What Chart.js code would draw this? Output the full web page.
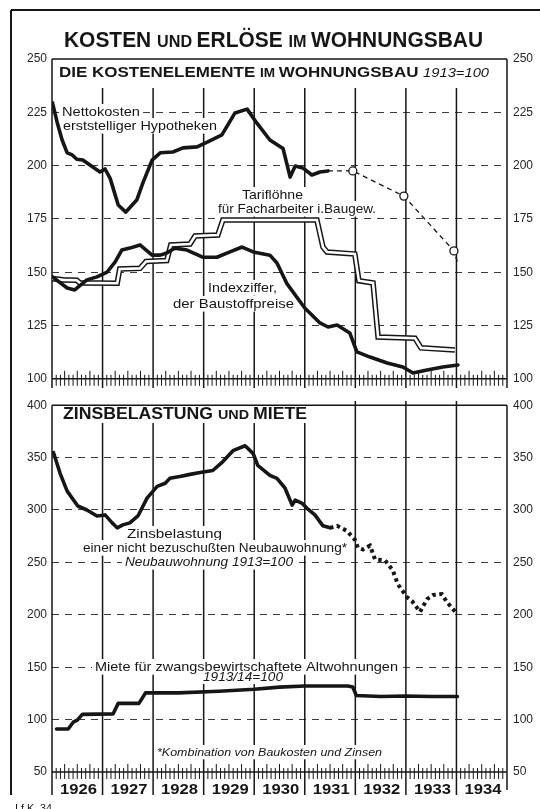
<!DOCTYPE html>
<html>
<head>
<meta charset="utf-8">
<script src="https://cdn.jsdelivr.net/npm/chart.js@4.4.1/dist/chart.umd.min.js"></script>
<style>
  html, body { margin: 0; padding: 0; background: #fff; }
  #page { position: relative; width: 540px; height: 809px; overflow: hidden; background: #fff; }
  canvas { position: absolute; left: 0; }
  #topChart { top: 0; }
  #botChart { top: 392px; }
</style>
</head>
<body>
<div id="page">
  <canvas id="topChart" width="540" height="392"></canvas>
  <canvas id="botChart" width="540" height="417"></canvas>
</div>
<script>
// years on the x axis (each year is one band)
const years = [1926, 1927, 1928, 1929, 1930, 1931, 1932, 1933, 1934];

// --- top panel: cost elements, 1913 = 100 ---
// Nettokosten erststelliger Hypotheken
const hypoX = [1926.01, 1926.10, 1926.20, 1926.30, 1926.40, 1926.49, 1926.61, 1926.75, 1926.95, 1927.05, 1927.15, 1927.31, 1927.46, 1927.68, 1927.80, 1927.98, 1928.14, 1928.39, 1928.59, 1928.87, 1929.07, 1929.36, 1929.62, 1929.86, 1930.05, 1930.31, 1930.57, 1930.71, 1930.81, 1930.96, 1931.14, 1931.30, 1931.46];
const hypoY = [229.4, 220.5, 212, 206, 205, 203, 202.6, 200.3, 197, 198.4, 194, 181.5, 178.2, 184, 192, 202.6, 206, 206.4, 208.3, 208.8, 211, 214.4, 224.7, 226.5, 220, 212, 208, 194.6, 199.8, 198.9, 195.6, 197, 197.5];
// dashed continuation with circles
const hypoEstX = [1931.46, 1931.95, 1932.96, 1933.95, 1934.03];
const hypoEstY = [197.5, 197.5, 185.7, 160, 154];

// Tariflöhne für Facharbeiter i. Baugew.
const tarifX = [1926.01, 1926.22, 1926.49, 1926.55, 1927.29, 1927.34, 1927.74, 1927.86, 1928.27, 1928.35, 1928.73, 1928.83, 1929.28, 1929.38, 1931.24, 1931.36, 1931.44, 1931.99, 1932.07, 1932.35, 1932.45, 1933.18, 1933.30, 1933.97];
const tarifY = [147, 146.4, 146.2, 145, 144.8, 151.5, 151.8, 155, 155.5, 162.8, 163.2, 167, 167.4, 174.5, 174.5, 161.8, 159.5, 158.5, 146, 145, 119.6, 119, 114.5, 113.5];

// Indexziffer der Baustoffpreise
const baustoffX = [1926.01, 1926.30, 1926.45, 1926.69, 1926.89, 1927.09, 1927.25, 1927.38, 1927.54, 1927.74, 1927.98, 1928.14, 1928.27, 1928.43, 1928.67, 1928.99, 1929.26, 1929.52, 1929.76, 1929.98, 1930.31, 1930.45, 1930.65, 1931.00, 1931.30, 1931.46, 1931.64, 1931.89, 1932.03, 1932.29, 1932.63, 1932.94, 1933.14, 1933.42, 1933.73, 1934.03];
const baustoffY = [147.8, 142.6, 141.7, 146.4, 147.8, 150, 154.8, 160.4, 161.3, 162.8, 158, 158, 159, 161.3, 160.4, 157, 157, 159.5, 161.8, 159.5, 158, 154.3, 144.5, 133.2, 126.2, 124.3, 125.2, 121.5, 112.6, 110.2, 107.4, 105.5, 102.7, 104.1, 105.5, 106.5];

// --- bottom panel: Zinsbelastung und Miete ---
const zinsX = [1926.03, 1926.16, 1926.30, 1926.51, 1926.69, 1926.89, 1927.05, 1927.19, 1927.29, 1927.40, 1927.54, 1927.70, 1927.88, 1928.08, 1928.24, 1928.33, 1928.53, 1928.73, 1928.93, 1929.18, 1929.38, 1929.58, 1929.82, 1929.98, 1930.07, 1930.31, 1930.45, 1930.61, 1930.75, 1930.81, 1930.94, 1931.04, 1931.20, 1931.36, 1931.50];
const zinsY = [354.7, 335, 318, 303.8, 300, 294.3, 295.3, 287.7, 283, 285.8, 287.7, 294.3, 311.3, 322.6, 325.5, 330.2, 332, 334, 335.8, 337.7, 346.2, 356.6, 361.3, 353.8, 342.5, 333, 330.2, 320.8, 304.7, 309.4, 306.6, 301.9, 295.3, 284.9, 283];
// dotted part (Kombination von Baukosten und Zinsen)
const zinsEstX = [1931.50, 1931.64, 1931.83, 1931.99, 1932.05, 1932.15, 1932.29, 1932.39, 1932.59, 1932.74, 1932.84, 1933.02, 1933.12, 1933.28, 1933.42, 1933.54, 1933.71, 1933.81, 1934.01];
const zinsEstY = [283, 284.9, 280.2, 271.7, 264.2, 262.3, 266, 252.8, 251.9, 242.5, 229.2, 217, 213.2, 202.8, 215, 218.9, 219.8, 212.3, 201];

// Miete für zwangsbewirtschaftete Altwohnungen
const mieteX = [1926.09, 1926.32, 1926.42, 1926.50, 1926.60, 1927.21, 1927.31, 1927.72, 1927.85, 1928.50, 1929.30, 1930.00, 1930.50, 1931.00, 1931.85, 1931.95, 1932.02, 1932.50, 1933.00, 1933.50, 1934.02];
const mieteY = [91, 91, 97.5, 99.5, 105, 105.5, 115.5, 115.5, 125.5, 125.5, 127, 129, 131, 132, 132, 131, 123, 122, 122.5, 122, 122];

const INK = "#161616";
const FAM = '"Liberation Sans", Arial, sans-serif';
const reg = s => s + "px " + FAM;
const bold = s => "bold " + s + "px " + FAM;
const ital = s => "italic " + s + "px " + FAM;

const pts = (xs, ys) => xs.map((x, i) => ({ x: x, y: ys[i] }));

function line(ctx, x1, y1, x2, y2, w) {
  ctx.lineWidth = w;
  ctx.beginPath();
  ctx.moveTo(x1, y1);
  ctx.lineTo(x2, y2);
  ctx.stroke();
}

//text squeezed/stretched to the width it has in the original
function fitText(ctx, segs, x0, x1, base, box) {
  ctx.save();
  let total = 0;
  const ws = segs.map(s => { ctx.font = s[1]; const w = ctx.measureText(s[0]).width; total += w; return w; });
  if (box) {
    ctx.fillStyle = "#fff";
    ctx.fillRect(x0 - 3, base - box, x1 - x0 + 6, box * 1.3);
  }
  ctx.fillStyle = INK;
  ctx.textBaseline = "alphabetic";
  ctx.textAlign = "left";
  ctx.translate(x0, base);
  ctx.scale((x1 - x0) / total, 1);
  let x = 0;
  segs.forEach((s, i) => { ctx.font = s[1]; ctx.fillText(s[0], x, 0); x += ws[i]; });
  ctx.restore();
}

//monthly hair ticks on the base line
function monthTicks(ctx, xs, y, left, right) {
  line(ctx, left, y, right, y, 1.5);
  for (let m = 1; m < 108; m++) {
    if (m % 12 === 0) continue;
    const x = xs.getPixelForValue(1926 + m / 12);
    line(ctx, x, y - (m % 3 === 0 ? 8 : 4), x, y + 7, 1);
  }
}

const topDeco = {
  id: "topDeco",
  beforeDatasetsDraw(chart) {
    const ctx = chart.ctx, xs = chart.scales.x, a = chart.chartArea;
    ctx.save();
    ctx.strokeStyle = INK;
    line(ctx, 11, 10, 540, 10, 2);
    line(ctx, 11, 10, 11, 392, 2);
    years.slice(1).forEach(yr => {
      const x = xs.getPixelForValue(yr);
      line(ctx, x, 88, x, 388, 1.5);
    });
    line(ctx, a.left, a.top, a.right, a.top, 1.5);
    line(ctx, a.left, a.top, a.left, 388, 1.5);
    line(ctx, a.right, a.top, a.right, 388, 1.5);
    monthTicks(ctx, xs, a.bottom, a.left, a.right);

    fitText(ctx, [["KOSTEN ", bold(22)], ["UND ", bold(17)], ["ERLÖSE ", bold(22)], ["IM ", bold(17)], ["WOHNUNGSBAU", bold(22)]], 64, 483, 47);
    fitText(ctx, [["DIE KOSTENELEMENTE ", bold(15)], ["IM ", bold(12)], ["WOHNUNGSBAU ", bold(15)], ["1913=100", ital(13)]], 59, 489, 77);

    fitText(ctx, [["Nettokosten", reg(13)]], 62, 140, 116, 12);
    fitText(ctx, [["erststelliger Hypotheken", reg(13)]], 63, 217, 130, 12);
    fitText(ctx, [["Tariflöhne", reg(13)]], 242, 303, 199, 12);
    fitText(ctx, [["für Facharbeiter i.Baugew.", reg(13)]], 218, 376, 213, 12);
    fitText(ctx, [["Indexziffer,", reg(13)]], 208, 277, 292, 12);
    fitText(ctx, [["der Baustoffpreise", reg(13)]], 173, 294, 308, 12);
    ctx.restore();
  }
};

const OFF = 392; // page y of the bottom canvas
const botDeco = {
  id: "botDeco",
  beforeDatasetsDraw(chart) {
    const ctx = chart.ctx, xs = chart.scales.x, a = chart.chartArea;
    ctx.save();
    ctx.strokeStyle = INK;
    line(ctx, 11, 0, 11, 795 - OFF, 2);
    years.slice(1).forEach(yr => {
      const x = xs.getPixelForValue(yr);
      line(ctx, x, (x < 320 ? 423 : 401) - OFF, x, 795 - OFF, 1.5);
    });
    line(ctx, a.left, a.top, a.right, a.top, 1.5);
    line(ctx, a.left, a.top, a.left, 795 - OFF, 1.5);
    line(ctx, a.right, a.top, a.right, 790 - OFF, 1.5);
    monthTicks(ctx, xs, a.bottom, a.left, a.right);

    fitText(ctx, [["ZINSBELASTUNG ", bold(16)], ["UND ", bold(13)], ["MIETE", bold(16)]], 63, 307, 419 - OFF);

    fitText(ctx, [["Zinsbelastung", reg(13)]], 127, 222, 538 - OFF, 12);
    fitText(ctx, [["einer nicht bezuschußten Neubauwohnung*", reg(13)]], 83, 347, 552 - OFF, 12);
    fitText(ctx, [["Neubauwohnung 1913=100", ital(13)]], 125, 293, 566 - OFF, 12);
    fitText(ctx, [["Miete für zwangsbewirtschaftete Altwohnungen", reg(13)]], 95, 398, 671 - OFF, 12);
    fitText(ctx, [["1913/14=100", ital(12)]], 203, 283, 681 - OFF, 10);
    fitText(ctx, [["*Kombination von Baukosten und Zinsen", ital(11)]], 157, 382, 756 - OFF, 11);

    years.forEach(yr => {
      const x = xs.getPixelForValue(yr);
      fitText(ctx, [[String(yr), bold(15)]], x + 8, x + 45, 794 - OFF);
    });
    fitText(ctx, [["I.f.K. 34", reg(10)]], 15, 52, 812 - OFF);
    ctx.restore();
  }
};

function panelOptions(yMin, yMax, step, padTop, padBottom) {
  const tickFont = { family: FAM, size: 12 };
  return {
    responsive: false,
    animation: false,
    devicePixelRatio: 1,
    layout: { padding: { left: 12, right: 0, top: padTop, bottom: padBottom } },
    plugins: { legend: { display: false }, tooltip: { enabled: false } },
    elements: { point: { radius: 0 }, line: { tension: 0 } },
    scales: {
      x: { type: "linear", min: 1926, max: 1935, display: false },
      y: {
        position: "left", min: yMin, max: yMax,
        ticks: { stepSize: step, padding: 5, color: "#262626", font: tickFont },
        grid: {
          drawTicks: false, lineWidth: 1.1,
          color: c => (c.tick.value === yMin || c.tick.value === yMax) ? "rgba(0,0,0,0)" : "#3c3c3c"
        },
        border: { display: false, dash: [7, 6] },
        afterFit: s => { s.width = 40; }
      },
      yR: {
        position: "right", min: yMin, max: yMax,
        ticks: { stepSize: step, padding: 6, color: "#262626", font: tickFont },
        grid: { display: false, drawTicks: false },
        border: { display: false },
        afterFit: s => { s.width = 33; }
      }
    }
  };
}

const thick = { borderColor: INK, borderWidth: 3.6, pointRadius: 0, borderJoinStyle: "round", borderCapStyle: "round" };

new Chart(document.getElementById("topChart"), {
  type: "line",
  data: {
    datasets: [
      { label: "Nettokosten (Schätzung)", data: pts(hypoEstX, hypoEstY), borderColor: INK, borderWidth: 1.3, borderDash: [5, 4],
        pointRadius: [0, 4, 4, 4, 0], pointBackgroundColor: "#fff", pointBorderColor: INK, pointBorderWidth: 1.3, order: 0 },
      Object.assign({ label: "Nettokosten erststelliger Hypotheken", data: pts(hypoX, hypoY), order: 1 }, thick),
      Object.assign({ label: "Indexziffer der Baustoffpreise", data: pts(baustoffX, baustoffY), order: 2 }, thick),
      { label: "Tariflöhne (innen)", data: pts(tarifX, tarifY), borderColor: "#fff", borderWidth: 2.6, pointRadius: 0, borderJoinStyle: "miter", order: 3 },
      { label: "Tariflöhne für Facharbeiter", data: pts(tarifX, tarifY), borderColor: INK, borderWidth: 5.6, pointRadius: 0, borderJoinStyle: "miter", order: 4 }
    ]
  },
  options: panelOptions(100, 250, 25, 59, 392 - 379),
  plugins: [topDeco]
});

new Chart(document.getElementById("botChart"), {
  type: "line",
  data: {
    datasets: [
      Object.assign({ label: "Zinsbelastung", data: pts(zinsX, zinsY), order: 1 }, thick),
      { label: "Zinsbelastung (Kombination)", data: pts(zinsEstX, zinsEstY), borderColor: INK, borderWidth: 4, borderDash: [3.5, 3.5],
        pointRadius: 0, borderCapStyle: "butt", order: 0 },
      Object.assign({ label: "Miete für zwangsbewirtschaftete Altwohnungen", data: pts(mieteX, mieteY), order: 2 }, thick)
    ]
  },
  options: panelOptions(50, 400, 50, 401 - OFF, 417 - (772 - OFF)),
  plugins: [botDeco]
});
</script>
</body>
</html>
